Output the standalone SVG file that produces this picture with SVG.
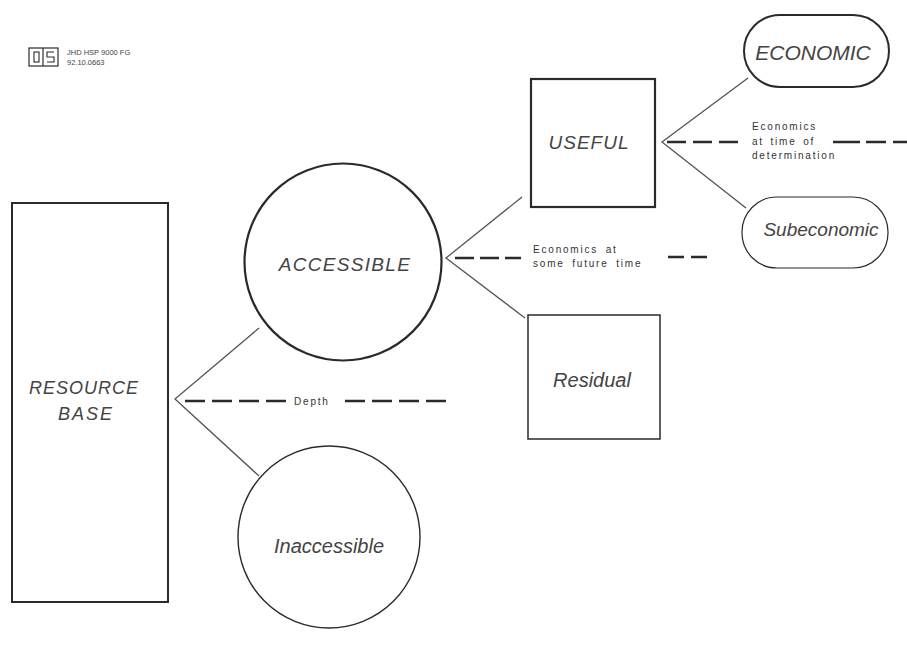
<svg xmlns="http://www.w3.org/2000/svg" width="907" height="645" viewBox="0 0 907 645">
<style>
.lbl{font-family:"Liberation Sans",Arial,sans-serif;font-style:italic;fill:#444;text-anchor:middle}
.sm{font-family:"Liberation Sans",Arial,sans-serif;font-size:10px;fill:#333;letter-spacing:1.8px}
.hdr{font-family:"Liberation Sans",Arial,sans-serif;font-size:7.5px;fill:#444}
.shape{fill:none;stroke:#2a2a2a}
.conn{stroke:#555;stroke-width:1.3;fill:none}
.dash{stroke:#2a2a2a;stroke-width:2.4;fill:none}
</style>
<rect width="907" height="645" fill="#fff"/>
<g id="header">
<rect x="29" y="48" width="29" height="18" class="shape" stroke-width="1.2"/>
<line x1="43" y1="48" x2="43" y2="66" class="shape" stroke-width="1.2"/>
<rect x="34" y="52" width="5" height="10" class="shape" stroke-width="1.1"/>
<polyline points="54,52 47,52 47,57 54,57 54,62 47,62" class="shape" stroke-width="1.1"/>
<text x="67" y="55" class="hdr">JHD HSP 9000 FG</text>
<text x="67" y="65" class="hdr">92.10.0663</text>
</g>
<g id="connectors">
<polyline class="conn" points="259,328 175,399 259,476"/>
<line class="dash" x1="185" y1="401" x2="290" y2="401" stroke-dasharray="20,7"/>
<line class="dash" x1="345" y1="401" x2="450" y2="401" stroke-dasharray="20,7"/>
<text x="294" y="405" class="sm">Depth</text>
<polyline class="conn" points="522,197 446,258 525,318"/>
<line class="dash" x1="455" y1="258" x2="521" y2="258" stroke-dasharray="19,6"/>
<line class="dash" x1="668" y1="257" x2="707" y2="257" stroke-dasharray="16,7"/>
<text x="533" y="253" class="sm" style="word-spacing:3px">Economics at</text>
<text x="533" y="267" class="sm" style="word-spacing:3px">some future time</text>
<polyline class="conn" points="748,78 662,142 746,208"/>
<line class="dash" x1="667" y1="142" x2="744" y2="142" stroke-dasharray="19,7"/>
<line class="dash" x1="833" y1="142" x2="907" y2="142" stroke-dasharray="27,6,20,7"/>
<text x="752" y="130" class="sm">Economics</text>
<text x="752" y="145" class="sm" style="word-spacing:2px">at time of</text>
<text x="752" y="159" class="sm">determination</text>
</g>
<g id="resource-base">
<rect x="12" y="203" width="156" height="399" class="shape" stroke-width="2"/>
<text x="84" y="394" class="lbl" font-size="18" letter-spacing="1">RESOURCE</text>
<text x="86" y="420" class="lbl" font-size="18" letter-spacing="2">BASE</text>
</g>
<g id="accessible">
<circle cx="343" cy="262" r="98.5" class="shape" stroke-width="2.2"/>
<text x="345" y="271" class="lbl" font-size="19" letter-spacing="1.3">ACCESSIBLE</text>
</g>
<g id="inaccessible">
<circle cx="329" cy="537" r="91" class="shape" stroke-width="1.4"/>
<text x="329" y="553" class="lbl" font-size="20">Inaccessible</text>
</g>
<g id="useful">
<rect x="531" y="79" width="124" height="128" class="shape" stroke-width="2.2"/>
<text x="589" y="149" class="lbl" font-size="19" letter-spacing="1">USEFUL</text>
</g>
<g id="residual">
<rect x="528" y="315" width="132" height="124" class="shape" stroke-width="1.5"/>
<text x="592" y="387" class="lbl" font-size="20">Residual</text>
</g>
<g id="economic">
<rect x="744" y="15" width="145" height="72" rx="36" class="shape" stroke-width="2"/>
<text x="813" y="60" class="lbl" font-size="21">ECONOMIC</text>
</g>
<g id="subeconomic">
<rect x="742" y="197" width="146" height="71" rx="35" class="shape" stroke-width="1.2"/>
<text x="821" y="236" class="lbl" font-size="19">Subeconomic</text>
</g>
</svg>
